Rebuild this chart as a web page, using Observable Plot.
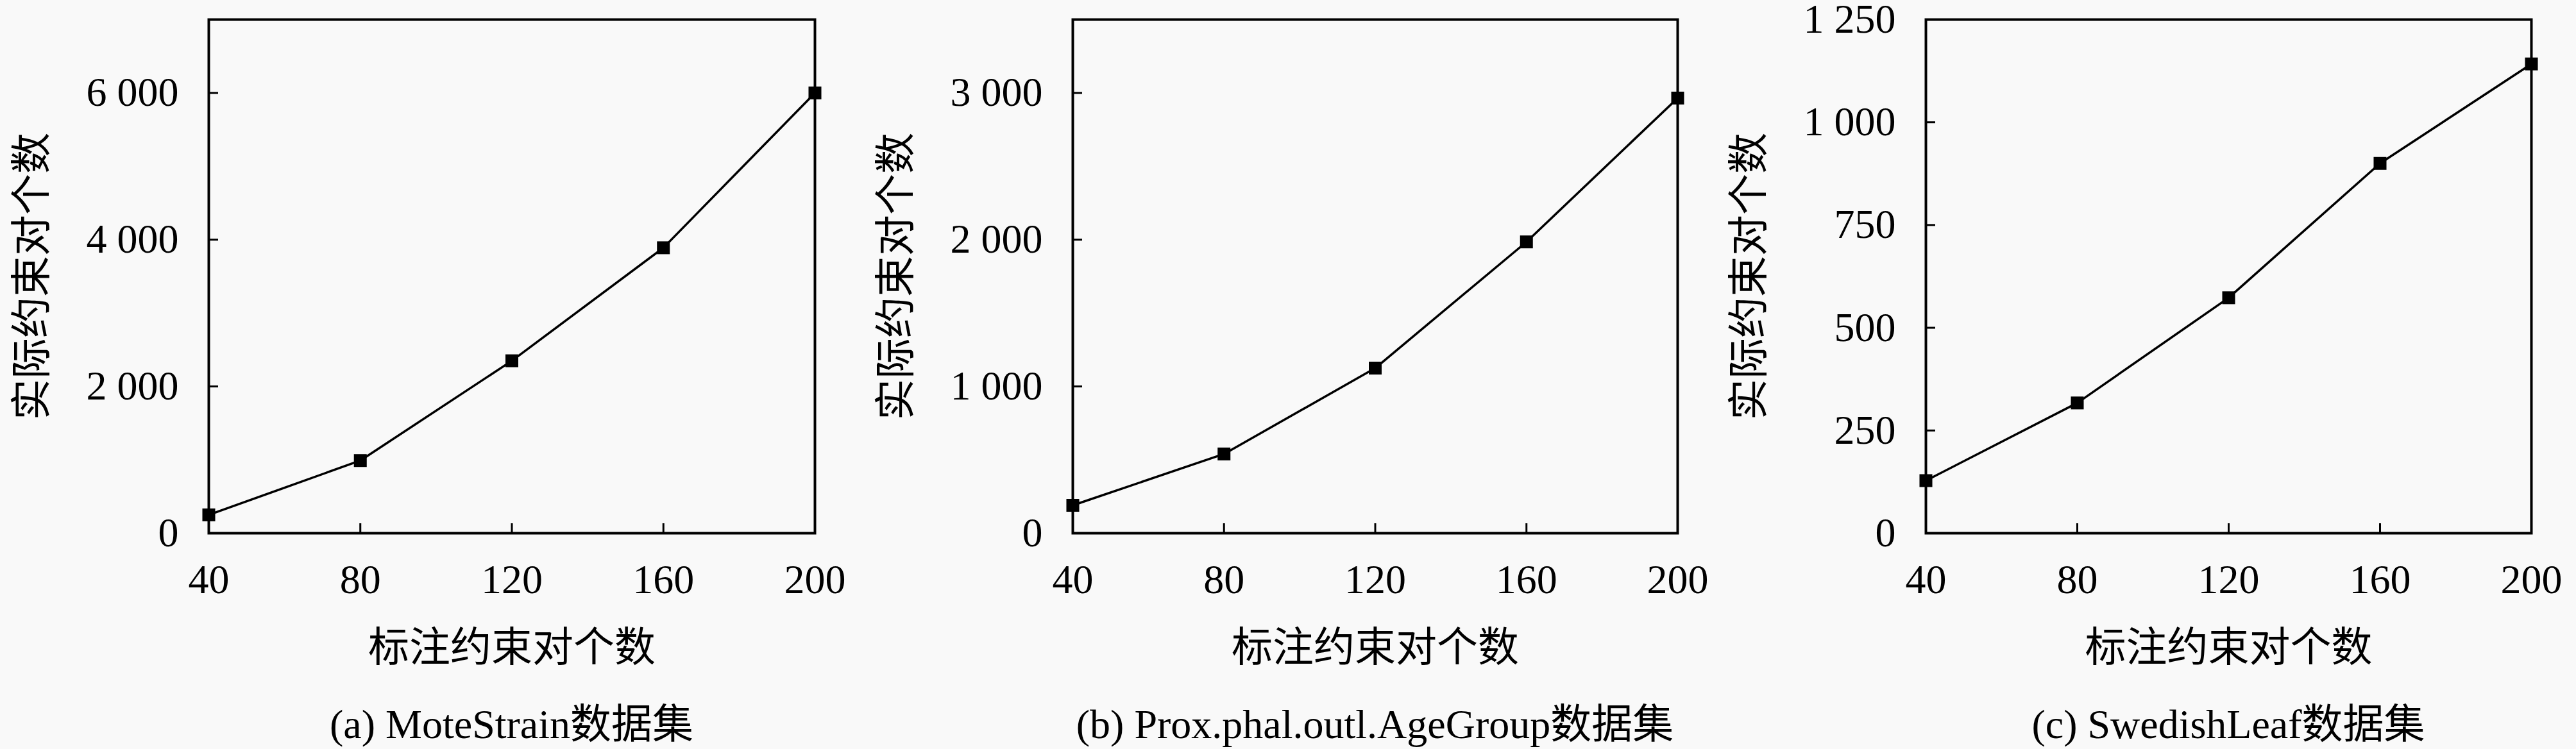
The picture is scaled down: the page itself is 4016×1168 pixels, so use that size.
<!DOCTYPE html>
<html>
<head>
<meta charset="utf-8">
<script src="https://cdn.jsdelivr.net/npm/d3@7"></script>
<script src="https://cdn.jsdelivr.net/npm/@observablehq/plot@0.6"></script>
<style>
  html, body { margin: 0; padding: 0; background: #f9f9f9; }
  #root { position: relative; width: 4016px; height: 1168px; overflow: hidden; background: #f9f9f9; }
  .panel { position: absolute; top: 0; width: 1340px; height: 1168px; }
  .panel svg { position: absolute; top: 0; left: 0; }
  .caption { position: absolute; top: 1096px; font-family: "Liberation Serif", "Noto Sans CJK SC", serif; font-size: 64px; line-height: 68px; text-align: center; color: #000; white-space: nowrap; }
</style>
</head>
<body>
<div id="root"></div>
<script>
// ---- data ----
const constraintCounts = [40, 80, 120, 160, 200];
const xTicks = [40, 80, 120, 160, 200];

const moteStrain = [250, 990, 2350, 3890, 6000];
const proxPhal = [190, 540, 1125, 1985, 2965];
const swedishLeaf = [128, 317, 573, 900, 1142];

const yTicksA = [0, 2000, 4000, 6000];
const yTicksB = [0, 1000, 2000, 3000];
const yTicksC = [0, 250, 500, 750, 1000, 1250];

const yDomainA = [0, 7000];
const yDomainB = [0, 3500];
const yDomainC = [0, 1250];

const captions = ["(a) MoteStrain数据集", "(b) Prox.phal.outl.AgeGroup数据集", "(c) SwedishLeaf数据集"];
const xTitle = "标注约束对个数";
const yTitle = "实际约束对个数";

// ---- layout ----
const FONT = "'Liberation Serif', 'Noto Sans CJK SC', serif";
const panels = [
  {left: 0,    ml: 325, mr: 70, values: moteStrain,  ticks: yTicksA, domain: yDomainA, caption: captions[0]},
  {left: 1340, ml: 332, mr: 65, values: proxPhal,    ticks: yTicksB, domain: yDomainB, caption: captions[1]},
  {left: 2676, ml: 326, mr: 70, values: swedishLeaf, ticks: yTicksC, domain: yDomainC, caption: captions[2]}
];

const fmt = d => d >= 1000 ? d3.format(",")(d).replace(/,/g, " ") : String(d);
const W = 1340, H = 1060, MT = 30, MB = H - 831;

const root = document.getElementById("root");
for (const p of panels) {
  const data = constraintCounts.map((x, i) => ({x, y: p.values[i]}));
  const chart = Plot.plot({
    width: W, height: H,
    marginLeft: p.ml, marginRight: p.mr, marginTop: MT, marginBottom: MB,
    x: {domain: [40, 200]},
    y: {domain: p.domain},
    style: {fontFamily: FONT, fontSize: "64px", background: "transparent", color: "#000", overflow: "visible"},
    marks: [
      Plot.axisX(xTicks, {tickSize: 0, tickPadding: 48, fontSize: 64, label: xTitle, labelAnchor: "center", labelOffset: 199, labelArrow: "none"}),
      Plot.axisX(xTicks, {tickSize: 15, dy: -15, strokeWidth: 3, text: null, label: null}),
      Plot.axisY(p.ticks, {tickSize: 0, tickPadding: 47, fontSize: 64, tickFormat: fmt, label: yTitle, labelAnchor: "center", labelOffset: 300, labelArrow: "none"}),
      Plot.axisY(p.ticks, {tickSize: 15, dx: 15, strokeWidth: 3, text: null, label: null}),
      Plot.line(data, {x: "x", y: "y", stroke: "#000", strokeWidth: 3.5}),
      Plot.dot(data, {x: "x", y: "y", symbol: "square", r: 11.3, fill: "#000", stroke: "none"}),
      Plot.frame({stroke: "#000", strokeWidth: 4})
    ]
  });
  const div = document.createElement("div");
  div.className = "panel";
  div.style.left = p.left + "px";
  div.appendChild(chart);
  const cap = document.createElement("div");
  cap.className = "caption";
  cap.style.left = p.ml + "px";
  cap.style.width = (W - p.ml - p.mr) + "px";
  cap.textContent = p.caption;
  div.appendChild(cap);
  root.appendChild(div);
}
</script>
</body>
</html>
